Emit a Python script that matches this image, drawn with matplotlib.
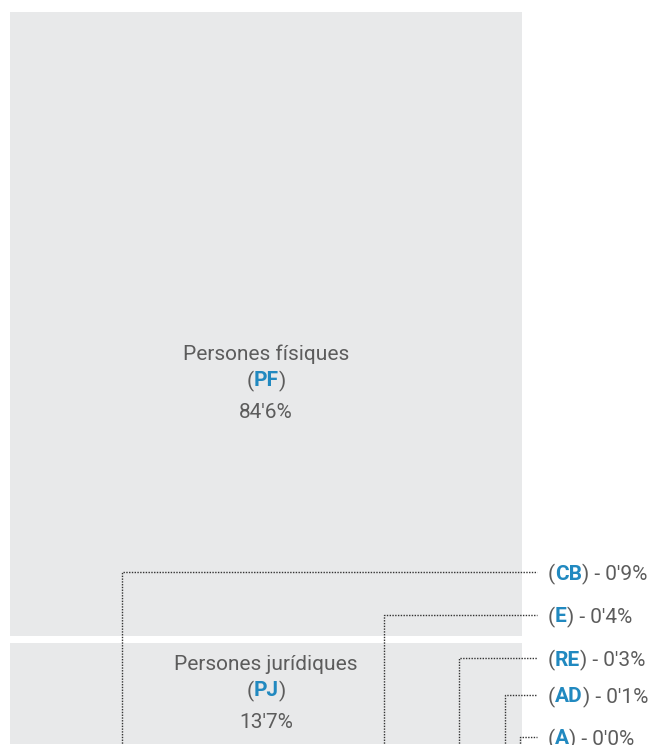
import matplotlib
matplotlib.use("Agg")
import matplotlib.pyplot as plt
from matplotlib.patches import Rectangle

plt.rcParams['font.family'] = ['Roboto', 'DejaVu Sans']

# data
codes = ['PF', 'PJ', 'CB', 'E', 'RE', 'AD', 'A']
names = ['Persones físiques', 'Persones jurídiques']
shares = [84.6, 13.7, 0.9, 0.4, 0.3, 0.1, 0.0]
# x where each small category's leader line drops down (pixels)
leader_x = [122, 384, 459, 505, 520]
label_y = [572, 615, 658, 695, 737]

GRAY_BOX = '#e8e9ea'
TXT = '#5c5c5c'
BLUE = '#2189c0'
FS = 15

W, H = 649, 745
fig = plt.figure(figsize=(W / 100, H / 100), dpi=100)
ax = fig.add_axes([0, 0, 1, 1])
ax.set_xlim(0, W)
ax.set_ylim(H, 0)
ax.axis('off')
renderer = fig.canvas.get_renderer()


def fmt(v):
    return ('%.1f' % v).replace('.', "'") + '%'


def text_width(s, **kw):
    t = ax.text(0, 0, s, fontsize=FS, **kw)
    bb = t.get_window_extent(renderer)
    t.remove()
    return bb.width  # pixels == data units in x


def rich(x, y, parts, ha='left'):
    widths = [text_width(s, fontweight=w) for s, c, w in parts]
    total = sum(widths)
    if ha == 'center':
        x = x - total / 2
    for (s, c, w), wd in zip(parts, widths):
        ax.text(x, y, s, fontsize=FS, color=c, fontweight=w,
                ha='left', va='center_baseline')
        x += wd


# treemap boxes
left, right, top = 10, 522, 12
scale = 624 / 84.6
gap = 7
y0 = top
for i in range(2):
    h = shares[i] * scale
    ax.add_patch(Rectangle((left, y0), right - left, h, color=GRAY_BOX, lw=0))
    cy = y0 + (340 if i == 0 else 19)
    rich((left + right) / 2, cy, [(names[i], TXT, 'normal')], ha='center')
    rich((left + right) / 2, cy + 27, [('(', TXT, 'normal'), (codes[i], BLUE, 'bold'),
                                       (')', TXT, 'normal')], ha='center')
    ax.text((left + right) / 2, cy + 58, fmt(shares[i]), fontsize=FS, color=TXT,
            ha='center', va='center_baseline')
    y0 += h + gap

# small categories with leader lines
for code, v, lx, ly in zip(codes[2:], shares[2:], leader_x, label_y):
    ax.plot([lx, lx, 537], [H + 5, ly, ly], color='#333333', lw=1,
            linestyle=(0, (1, 1)), clip_on=False)
    rich(548, ly, [('(', TXT, 'normal'), (code, BLUE, 'bold'),
                   (') - ' + fmt(v), TXT, 'normal')])

fig.savefig('out.png', dpi=100)
